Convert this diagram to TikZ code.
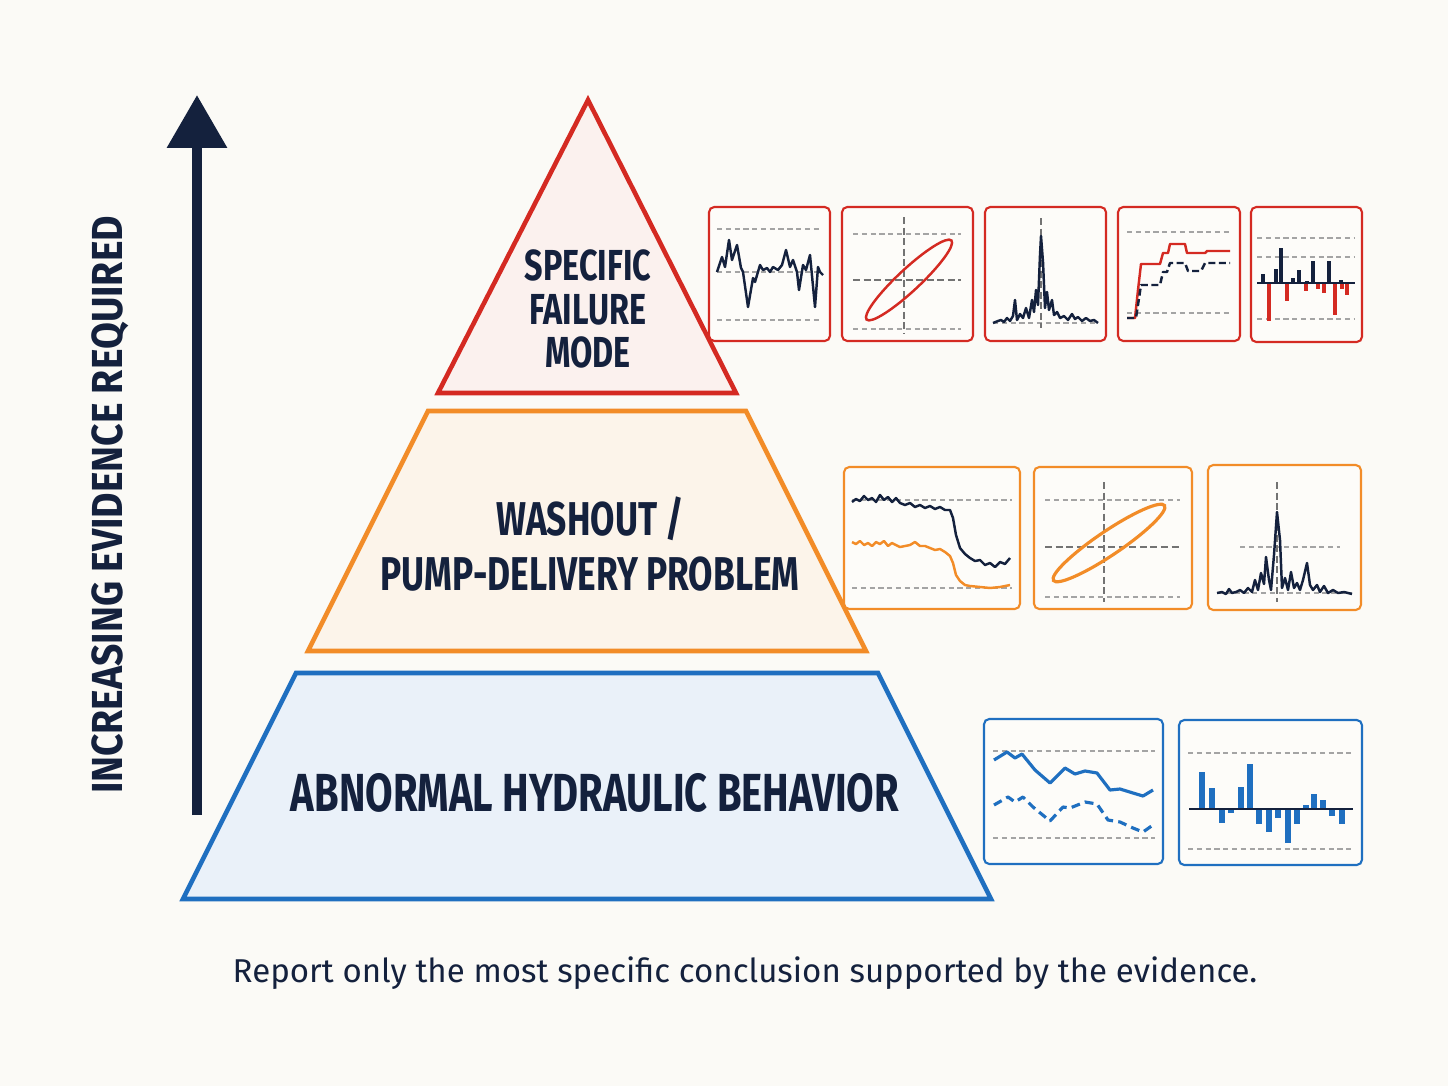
\documentclass[tikz,border=0pt]{standalone}
\usepackage{fontspec}
\setmainfont{Fira Sans}
\newfontfamily\headfont[FakeStretch=0.745]{Fira Sans}
\newfontfamily\axisfont[FakeStretch=0.9]{Fira Sans}
\usetikzlibrary{arrows.meta, positioning}

\definecolor{paper}{HTML}{FBFAF6}
\definecolor{ink}{HTML}{14213D}
\definecolor{failred}{HTML}{D42A22}
\definecolor{failfill}{HTML}{FBF1EE}
\definecolor{washorange}{HTML}{F28C28}
\definecolor{washfill}{HTML}{FCF4EA}
\definecolor{hydblue}{HTML}{1F6FC0}
\definecolor{hydfill}{HTML}{EAF1F9}
\definecolor{panel}{HTML}{FDFCF9}
\definecolor{gridgray}{HTML}{A4A4A4}

\begin{document}
\begin{tikzpicture}[
  x=0.02cm, y=-0.02cm,
  every node/.style={text=ink},
  tier/.style={line width=2.6pt, line join=miter},
  tierlabel/.style={font=\headfont\bfseries, align=center},
  chartbox/.style={rounded corners=3pt, line width=1.2pt, fill=panel},
  gridline/.style={gridgray, line width=0.6pt, dash pattern=on 3pt off 2pt},
  axisline/.style={gridgray!70!black, line width=0.7pt, dash pattern=on 4pt off 2pt},
  trace/.style={line width=1.4pt, line join=round},
  evidence/.style={-{Triangle[width=1.16cm, length=1.06cm]}, line width=0.2cm, draw=ink}
]
\useasboundingbox[fill=paper] (0,0) rectangle (1448,1086);

% Evidence arrow
\coordinate (arrowfoot) at (197,815);
\coordinate (arrowtip) at (197,95);
\draw[evidence] (arrowfoot) -- (arrowtip);
\node[rotate=90, font=\axisfont\bfseries\fontsize{24.7}{28}\selectfont] (axislabel) at (110,505) {INCREASING EVIDENCE REQUIRED};

% Pyramid tiers
\draw[tier, draw=hydblue, fill=hydfill] (296,673) -- (878,673) -- (991,899) -- (183,899) -- cycle;
\draw[tier, draw=washorange, fill=washfill] (428,411) -- (746,411) -- (866,651) -- (308,651) -- cycle;
\draw[tier, draw=failred, fill=failfill] (588,100) -- (736,393) -- (438,393) -- cycle;

\node[tierlabel, font=\headfont\bfseries\fontsize{24.7}{25}\selectfont] (failure) at (588,309) {SPECIFIC\\FAILURE\\MODE};
\node[tierlabel, font=\headfont\bfseries\fontsize{27}{31.5}\selectfont] (washout) at (590,544) {WASHOUT /\\PUMP-DELIVERY PROBLEM};
\node[tierlabel, font=\headfont\bfseries\fontsize{30.5}{34}\selectfont] (abnormal) at (595,793) {ABNORMAL HYDRAULIC BEHAVIOR};

% Footer
\node[font=\fontsize{18.8}{22}\selectfont] (footer) at (745,973) {Report only the most specific conclusion supported by the evidence.};

% Failure-mode evidence (top row)
\draw[chartbox, draw=failred] (709,207) rectangle (830,341);
\draw[gridline] (717,229) -- (822,229);
\draw[gridline] (717,272) -- (822,272);
\draw[gridline] (717,320) -- (822,320);
\draw[trace, ink] plot coordinates {(717,272) (722,257) (725,267) (729,240) (732,260) (737,245) (741,268) (743,272) (748,307) (753,278) (755,282) (760,265) (763,270) (767,268) (770,272) (773,267) (778,270) (782,265) (786,250) (790,267) (793,260) (797,272) (799,290) (803,265) (806,270) (810,255) (815,307) (818,267) (820,272) (823,275)};

\draw[chartbox, draw=failred] (842,207) rectangle (973,341);
\draw[gridline] (853,234) -- (961,234);
\draw[gridline] (853,329) -- (961,329);
\draw[axisline] (853,280) -- (961,280);
\draw[axisline] (904,217) -- (904,333);
\draw[line width=1.4pt, failred, rotate around={43:(909,280)}] (909,280) ellipse [x radius=58, y radius=11];

\draw[chartbox, draw=failred] (985,207) rectangle (1106,341);
\draw[gridline] (993,323) -- (1098,323);
\draw[axisline] (1041,218) -- (1041,328);
\draw[trace, ink] plot coordinates {(993,323) (998,321) (1001,320) (1004,322) (1007,318) (1010,321) (1013,316) (1015,300) (1017,320) (1020,314) (1023,318) (1026,308) (1029,318) (1032,300) (1034,312) (1036,290) (1038,305) (1040,255) (1041,236) (1043,262) (1045,308) (1047,292) (1049,310) (1052,300) (1054,315) (1057,312) (1060,318) (1064,316) (1068,320) (1072,314) (1075,319) (1078,317) (1082,321) (1086,318) (1090,321) (1094,320) (1098,323)};

\draw[chartbox, draw=failred] (1118,207) rectangle (1240,341);
\draw[gridline] (1127,232) -- (1230,232);
\draw[gridline] (1127,313) -- (1230,313);
\draw[trace, failred] plot coordinates {(1127,318) (1135,318) (1138,290) (1141,264) (1160,264) (1163,253) (1168,253) (1170,244) (1185,244) (1187,253) (1205,253) (1207,251) (1230,251)};
\draw[trace, ink, dash pattern=on 4pt off 2pt] plot coordinates {(1127,318) (1136,318) (1141,285) (1160,285) (1163,272) (1167,272) (1170,263) (1185,263) (1188,271) (1201,271) (1205,263) (1230,263)};

\draw[chartbox, draw=failred] (1251,207) rectangle (1362,342);
\draw[gridline] (1257,238) -- (1355,238);
\draw[gridline] (1257,257) -- (1355,257);
\draw[gridline] (1257,319) -- (1355,319);
\foreach \bx/\by in {1263/274, 1276/269, 1281/248, 1293/278, 1299/270, 1307/281, 1313/261, 1329/261, 1341/280}
  \fill[ink] (\bx-2,283) rectangle (\bx+2,\by);
\foreach \bx/\by in {1269/321, 1287/301, 1306/291, 1318/289, 1324/293, 1335/315, 1342/289, 1347/295}
  \fill[failred] (\bx-2,283) rectangle (\bx+2,\by);
\draw[ink, line width=1pt] (1257,283) -- (1355,283);

% Washout evidence (middle row)
\draw[chartbox, draw=washorange] (844,467) rectangle (1020,609);
\draw[gridline] (852,500) -- (1012,500);
\draw[gridline] (852,588) -- (1012,588);
\draw[trace, ink] plot coordinates {(852,502) (856,499) (860,501) (864,496) (868,500) (872,498) (876,502) (880,495) (884,500) (888,497) (892,502) (896,498) (900,503) (905,505) (910,503) (915,507) (920,505) (925,508) (930,506) (935,509) (940,507) (945,510) (950,510) (953,518) (956,535) (960,548) (965,554) (970,558) (975,561) (980,560) (985,565) (990,563) (995,567) (1000,562) (1005,564) (1010,558)};
\draw[trace, washorange] plot coordinates {(852,542) (856,544) (860,541) (864,545) (868,543) (872,546) (876,542) (880,544) (884,541) (888,546) (892,543) (896,545) (900,547) (905,546) (910,545) (915,542) (920,546) (925,546) (930,548) (935,550) (940,549) (945,552) (950,556) (953,563) (956,575) (960,581) (965,585) (970,586) (980,587) (990,588) (1000,587) (1010,585)};

\draw[chartbox, draw=washorange] (1034,467) rectangle (1192,609);
\draw[gridline] (1045,500) -- (1180,500);
\draw[gridline] (1045,597) -- (1180,597);
\draw[axisline] (1045,547) -- (1180,547);
\draw[axisline] (1104,482) -- (1104,602);
\draw[line width=1.8pt, washorange, rotate around={34:(1109,543)}] (1109,543) ellipse [x radius=67, y radius=12];

\draw[chartbox, draw=washorange] (1208,465) rectangle (1361,610);
\draw[gridline] (1240,547) -- (1340,547);
\draw[gridline] (1217,593) -- (1352,593);
\draw[axisline] (1277,482) -- (1277,602);
\draw[trace, ink] plot coordinates {(1217,593) (1222,592) (1226,594) (1229,589) (1232,593) (1236,592) (1240,590) (1244,593) (1248,588) (1252,592) (1255,580) (1258,590) (1261,573) (1264,584) (1266,557) (1269,580) (1271,590) (1274,555) (1277,512) (1280,540) (1282,588) (1285,578) (1288,590) (1291,572) (1294,588) (1297,583) (1300,590) (1303,580) (1307,563) (1310,585) (1313,590) (1317,585) (1320,592) (1324,586) (1328,593) (1333,590) (1338,593) (1344,592) (1352,594)};

% Abnormal-behaviour evidence (bottom row)
\draw[chartbox, draw=hydblue] (984,719) rectangle (1163,864);
\draw[gridline] (993,751) -- (1155,751);
\draw[gridline] (993,838) -- (1155,838);
\draw[line width=1.8pt, hydblue, line join=round] plot coordinates {(994,760) (1007,752) (1015,758) (1022,754) (1035,770) (1050,783) (1065,768) (1075,774) (1085,771) (1097,773) (1110,790) (1120,789) (1133,793) (1143,796) (1153,790)};
\draw[line width=1.8pt, hydblue, dash pattern=on 5pt off 3pt, line join=round] plot coordinates {(994,805) (1008,797) (1015,802) (1023,797) (1033,807) (1050,821) (1063,807) (1070,808) (1085,802) (1097,804) (1108,820) (1120,822) (1133,828) (1143,832) (1153,825)};

\draw[chartbox, draw=hydblue] (1179,720) rectangle (1362,865);
\draw[gridline] (1188,753) -- (1352,753);
\draw[gridline] (1188,849) -- (1352,849);
\foreach \bx/\by in {1202/772, 1212/788, 1222/823, 1231/813, 1241/787, 1250/764, 1259/824, 1269/832, 1278/818, 1288/843, 1297/824, 1306/805, 1314/794, 1323/800, 1332/816, 1342/824}
  \fill[hydblue] (\bx-3,809) rectangle (\bx+3,\by);
\draw[ink, line width=1pt] (1189,809) -- (1353,809);

\end{tikzpicture}
\end{document}
